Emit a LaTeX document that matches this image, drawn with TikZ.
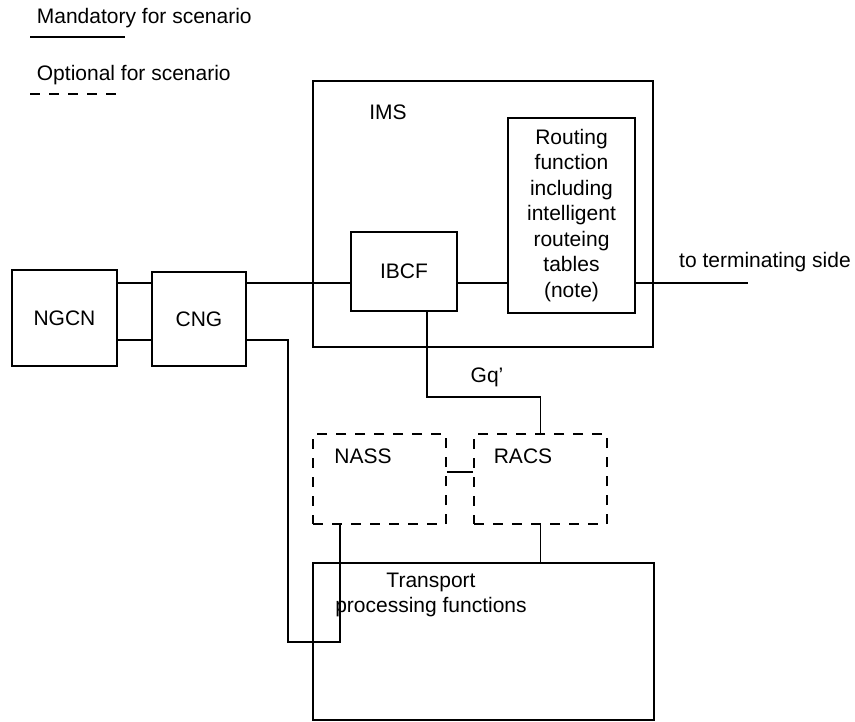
\documentclass[tikz,border=0pt]{standalone}
\usepackage{fontspec}
\setmainfont{Liberation Sans}
\usepackage{tikz}

\begin{document}
\begin{tikzpicture}[x=1pt,y=-1pt,line width=1.8pt,font=\fontsize{21}{25.5}\selectfont]
	\tikzstyle{block} = [draw, rectangle, inner sep=0pt]
	\tikzstyle{optblock} = [block, dash pattern=on 10pt off 9pt]
	\tikzstyle{txt} = [inner sep=0pt, align=center]

	\useasboundingbox (0,0) rectangle (855,722);

	\node [txt, anchor=west] (mand) at (36,18) {Mandatory for scenario};
	\node [txt, anchor=west] (opt) at (36,75) {Optional for scenario};
	\coordinate (manda) at (30,37);
	\coordinate (mandb) at (125,37);
	\coordinate (opta) at (30,94);
	\coordinate (optb) at (125,94);

	\node [block, minimum width=105, minimum height=96] (ngcn) at (64.5,318) {NGCN};
	\node [block, minimum width=94, minimum height=94] (cng) at (199,319) {CNG};
	\node [block, minimum width=340, minimum height=266] (ims) at (483,214) {};
	\node [txt] (imstext) at (388,112) {IMS};
	\node [block, minimum width=106, minimum height=79] (ibcf) at (404,271.5) {IBCF};
	\node [block, txt, minimum width=127, minimum height=195] (routing) at (571.5,215.5) {Routing\\function\\including\\intelligent\\routeing\\tables\\(note)};
	\node [txt] (termtext) at (765,262) {to terminating side};

	\node [optblock, minimum width=133, minimum height=90] (nass) at (379.5,479) {};
	\node [txt] (nasstext) at (363,456) {NASS};
	\node [optblock, minimum width=133, minimum height=90] (racs) at (540.5,479) {};
	\node [txt] (racstext) at (523,456) {RACS};
	\node [block, minimum width=341, minimum height=157] (transport) at (483.5,641.5) {};
	\node [txt] (transtext) at (431,595) {Transport\\processing functions};
	\node [txt] (gqtext) at (487,377) {Gq'};

	\coordinate (top) at (0,283);
	\coordinate (low) at (0,340);
	\coordinate (term) at (748,283);
	\coordinate (gqa) at (427,397);
	\coordinate (nr) at (0,472);
	\coordinate (cnga) at (288,642);
	\coordinate (cngb) at (340,642);

	\draw (manda) -- (mandb);
	\draw [dash pattern=on 10pt off 9pt] (opta) -- (optb);

	\draw (ngcn.east |- top) -- (cng.west |- top);
	\draw (ngcn.east |- low) -- (cng.west |- low);
	\draw (cng.east |- top) -- (ibcf.west |- top);
	\draw (ibcf.east |- top) -- (routing.west |- top);
	\draw (routing.east |- top) -- (term);
	\draw (ibcf.south -| gqa) -- (gqa) -| (racs.north);
	\draw (nass.east |- nr) -- (racs.west |- nr);
	\draw (racs.south) -- (racs.south |- transport.north);
	\draw (cng.east |- low) -| (cnga) -- (cngb) -- (nass.south -| cngb);

\end{tikzpicture}
\end{document}
